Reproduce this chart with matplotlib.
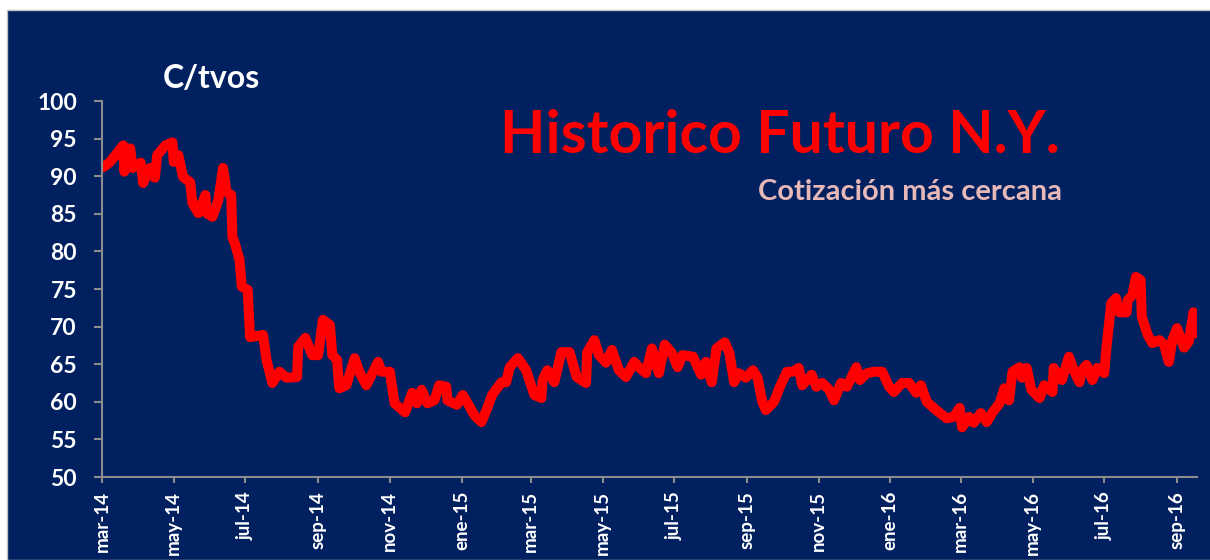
"""Historico Futuro N.Y. - cotizacion mas cercana (c/tvos)."""

import matplotlib

matplotlib.use("Agg")
import matplotlib.pyplot as plt
import matplotlib.dates as mdates
import numpy as np
import pandas as pd
from matplotlib.patches import Rectangle

# dias desde el 1-mar-2014 y cotizacion
dias = [
    1, 7, 13, 18, 19, 24, 26, 33, 35, 41, 45, 47, 54, 60, 61, 65, 69, 75, 77, 82,
    88, 89, 94, 99, 103, 106, 110, 111, 113, 117, 119, 124, 126, 137, 140, 145,
    151, 157, 166, 167, 173, 179, 184, 188, 194, 196, 200, 202, 208, 215, 219,
    225, 235, 238, 245, 249, 258, 264, 268, 272, 277, 283, 287, 293, 294, 302,
    307, 312, 317, 323, 328, 332, 340, 344, 347, 354, 361, 368, 374, 375, 379,
    385, 391, 398, 404, 412, 413, 419, 423, 429, 434, 440, 446, 453, 457, 463,
    468, 474, 479, 485, 490, 494, 503, 510, 514, 519, 523, 530, 534, 538, 542,
    548, 554, 558, 562, 565, 572, 577, 583, 588, 593, 596, 604, 608, 613, 619,
    623, 629, 634, 638, 642, 645, 651, 657, 664, 670, 674, 681, 687, 693, 697,
    702, 710, 719, 725, 730, 732, 738, 742, 748, 753, 758, 764, 768, 772, 775,
    781, 783, 787, 791, 798, 802, 809, 810, 817, 823, 827, 832, 834, 838, 843,
    847, 853, 855, 859, 863, 866, 872, 873, 877, 880, 884, 885, 890, 894, 900,
    904, 908, 911, 915, 921, 925, 929, 931,
]
cotizacion = [
    91.2, 91.9, 93.1, 94.1, 90.6, 93.7, 91.1, 91.8, 89.1, 91.1, 89.8, 92.8, 94.1,
    94.5, 91.9, 92.8, 89.9, 89.2, 86.4, 85.1, 87.5, 85.1, 84.6, 86.8, 91.1, 87.9,
    87.5, 81.9, 81.1, 78.9, 75.3, 74.9, 68.6, 68.9, 65.6, 62.5, 64.0, 63.2, 63.3,
    67.3, 68.5, 66.2, 66.2, 70.9, 70.2, 66.2, 65.6, 61.8, 62.2, 65.8, 64.0, 62.2,
    65.3, 64.0, 64.0, 59.8, 58.6, 61.2, 59.8, 61.6, 59.8, 60.2, 62.2, 62.0, 60.2,
    59.6, 60.9, 59.6, 58.2, 57.3, 59.2, 60.9, 62.6, 62.6, 64.6, 65.8, 64.2, 60.9,
    60.5, 62.9, 64.2, 62.6, 66.6, 66.6, 63.3, 62.5, 66.6, 68.2, 66.2, 65.2, 66.9,
    64.2, 63.3, 65.3, 64.6, 63.8, 67.1, 63.8, 67.6, 66.5, 64.6, 66.2, 66.0, 63.6,
    65.3, 62.6, 67.1, 67.9, 66.5, 62.6, 63.8, 63.2, 64.2, 63.2, 60.0, 58.9, 60.0,
    62.0, 64.0, 64.0, 64.5, 62.2, 63.6, 62.0, 62.5, 61.6, 60.2, 62.5, 62.0, 63.3,
    64.6, 62.9, 63.8, 64.0, 64.0, 62.0, 61.3, 62.5, 62.5, 61.2, 62.2, 60.0, 58.9,
    57.8, 58.0, 59.2, 56.6, 58.0, 57.2, 58.5, 57.3, 58.6, 59.8, 61.8, 60.2, 64.0,
    64.6, 63.2, 64.5, 61.6, 60.5, 62.2, 61.3, 64.5, 62.9, 66.0, 64.2, 62.6, 64.2,
    64.9, 62.9, 64.5, 63.8, 67.3, 73.1, 73.8, 71.9, 71.9, 73.5, 74.2, 76.6, 76.2,
    71.3, 68.9, 67.8, 68.2, 67.6, 65.3, 68.2, 69.8, 67.2, 68.0, 71.9, 69.1,
]

tick_fechas = [
    "2014-03-01", "2014-05-01", "2014-07-01", "2014-09-01", "2014-11-01",
    "2015-01-01", "2015-03-01", "2015-05-01", "2015-07-01", "2015-09-01",
    "2015-11-01", "2016-01-01", "2016-03-01", "2016-05-01", "2016-07-01",
    "2016-09-01",
]
tick_etiquetas = [
    "mar-14", "may-14", "jul-14", "sep-14", "nov-14", "ene-15", "mar-15",
    "may-15", "jul-15", "sep-15", "nov-15", "ene-16", "mar-16", "may-16",
    "jul-16", "sep-16",
]

NAVY = "#002060"
GRIS = "#8c8c8c"
FUENTE = ["Lato", "DejaVu Sans"]

plt.rcParams["font.family"] = FUENTE

inicio = pd.Timestamp("2014-03-01")
fechas = inicio + pd.to_timedelta(dias, unit="D")

fig = plt.figure(figsize=(12.1, 5.6), dpi=100, facecolor="white")
fig.patches.append(
    Rectangle((7 / 1210, 0), 1, 1 - 10 / 560, transform=fig.transFigure,
              facecolor=NAVY, edgecolor="#bfbfbf", linewidth=1, zorder=-1)
)

ax = fig.add_axes([102 / 1210, 83 / 560, 1095 / 1210, 376 / 560])
ax.set_zorder(2)
ax.set_facecolor(NAVY)
ax.plot(mdates.date2num(fechas), cotizacion, color="#ff0000", linewidth=7.2,
        solid_joinstyle="round", solid_capstyle="round", zorder=3)

ax.set_ylim(50, 100)
ax.set_yticks(np.arange(50, 101, 5))
ax.set_xlim(mdates.date2num(inicio), mdates.date2num(pd.Timestamp("2016-09-18")))
ax.set_xticks(mdates.date2num(pd.to_datetime(tick_fechas)))
ax.set_xticklabels(tick_etiquetas, rotation=90)

for side in ("top", "right"):
    ax.spines[side].set_visible(False)
for side in ("left", "bottom"):
    ax.spines[side].set_color(GRIS)
    ax.spines[side].set_linewidth(1.5)
    ax.spines[side].set_zorder(4)

ax.tick_params(axis="both", colors=GRIS, width=1.5, direction="out")
ax.tick_params(axis="y", labelsize=16.5, labelcolor="white", length=6, pad=12)
ax.tick_params(axis="x", labelsize=13.5, labelcolor="white", length=4, pad=6)
for lbl in ax.get_xticklabels() + ax.get_yticklabels():
    lbl.set_fontweight("bold")

fig.text(211 / 1210, 1 - 78 / 560, "C/tvos", color="white", fontsize=23,
         fontweight="bold", ha="center", va="center")
fig.text(1060 / 1210, 1 - 136 / 560, "Historico Futuro N.Y.", color="#ff0000",
         fontsize=42.5, fontweight="bold", ha="right", va="center")
fig.text(1062 / 1210, 1 - 192 / 560, "Cotización más cercana", color="#e6b9b8",
         fontsize=21, fontweight="bold", ha="right", va="center")

fig.savefig("out.png", dpi=100, facecolor=fig.get_facecolor())
